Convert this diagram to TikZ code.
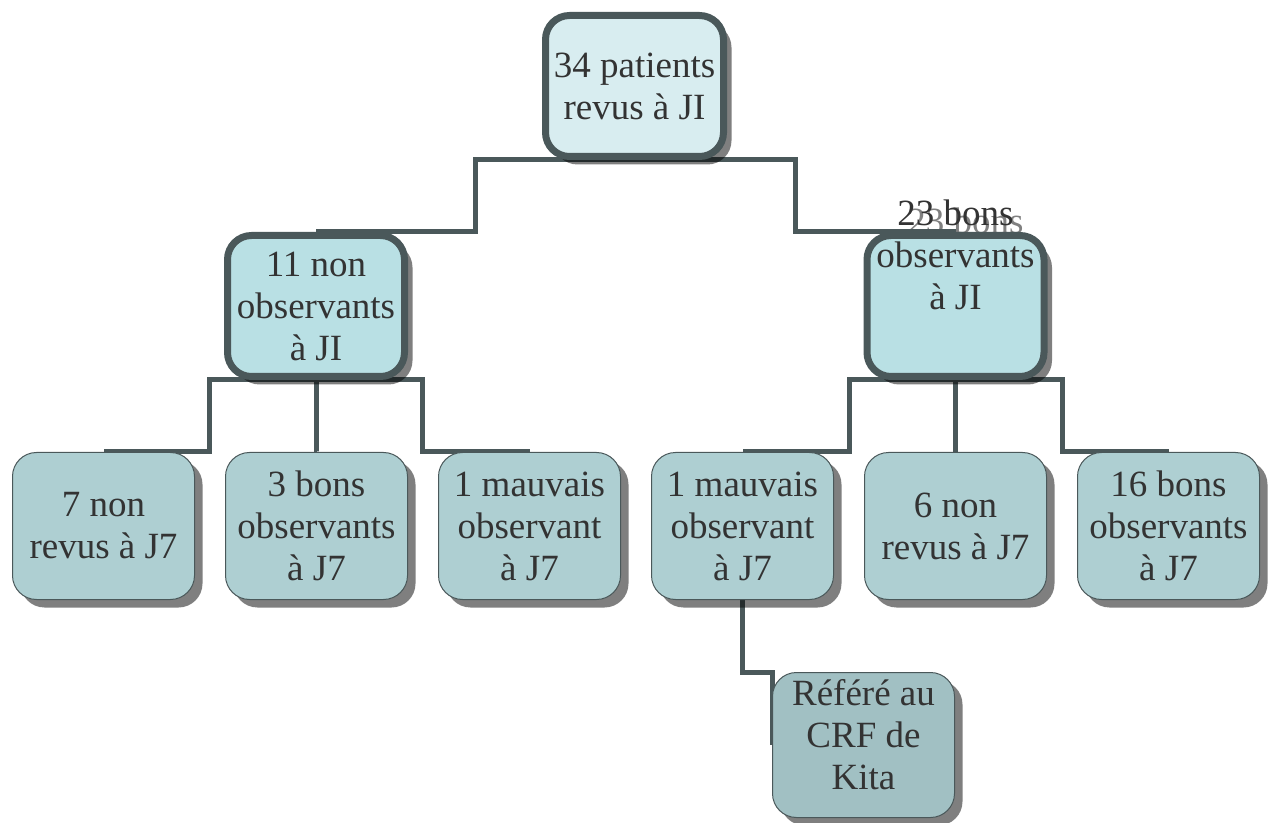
\documentclass[tikz,border=0pt]{standalone}
\usepackage{fontspec}
\setmainfont{Liberation Serif}
\usepackage{tikz}
\usetikzlibrary{positioning, calc, shadows}
\definecolor{linegray}{RGB}{74,88,90}
\definecolor{textgray}{RGB}{51,51,51}
\definecolor{fillone}{RGB}{216,237,240}
\definecolor{filltwo}{RGB}{185,224,228}
\definecolor{fillthree}{RGB}{174,207,210}
\definecolor{fillfour}{RGB}{161,192,195}
\pgfdeclarelayer{background}
\pgfsetlayers{background,main}
\tikzset{
    txt/.style={align=center, text=textgray, font=\fontsize{18.5}{21}\selectfont, inner sep=0pt},
    box/.style={txt, rectangle, rounded corners=12pt,
        drop shadow={shadow xshift=4pt, shadow yshift=-4pt, fill=black, opacity=0.5}},
    thickbox/.style={box, draw=linegray, line width=3.5pt, minimum width=89pt, minimum height=70.5pt},
    thinbox/.style={box, draw=linegray, line width=0.5pt, minimum width=91pt, minimum height=73.5pt},
    link/.style={draw=linegray, line width=2.5pt}
}

\begin{document}
\begin{tikzpicture}[x=0.5pt, y=-0.5pt]
    \useasboundingbox (0,0) rectangle (1274,823);

    % Root
    \node[thickbox, fill=fillone] (root) at (634.5,86) {34 patients\\revus à JI};

    % Second level
    \node[thickbox, fill=filltwo, minimum width=88.5pt] (non) at (316,306) {11 non\\observants\\à JI};
    \node[thickbox, fill=filltwo, minimum width=88.5pt] (bons) at (955.5,306) {};
    \node[txt] (bonstxt) at ($(bons.center)+(0,-51)$) {23 bons\\observants\\à JI};

    % Third level
    \foreach \n/\x/\txt in {c1/103.5/{7 non\\revus à J7}, c2/316.5/{3 bons\\observants\\à J7},
        c3/529.5/{1 mauvais\\observant\\à J7}, c4/742.5/{1 mauvais\\observant\\à J7},
        c5/955.5/{6 non\\revus à J7}, c6/1168.5/{16 bons\\observants\\à J7}} {
        \node[thinbox, fill=fillthree] (\n) at (\x,526) {\txt};
    }

    % Referral
    \node[thinbox, fill=fillfour, minimum height=72.5pt] (ref) at (863.5,745) {};
    \node[txt] (reftxt) at ($(ref.center)+(0,-10)$) {Référé au\\CRF de\\Kita};

    % Connectors
    \begin{pgfonlayer}{background}
        \node[txt, text=black!50] at ($(bons.center)+(10,-85)$) {23 bons};
        \foreach \p/\c in {root/non, root/bons, non/c1, non/c2, non/c3, bons/c4, bons/c5, bons/c6} {
            \draw[link] (\p.south) -| ($(\p.south)!0.5!(\c.north)$) |- (\c.north);
        }
        \draw[link] (c4.south) |- (ref.north west) -- (ref.west);
    \end{pgfonlayer}
\end{tikzpicture}
\end{document}
